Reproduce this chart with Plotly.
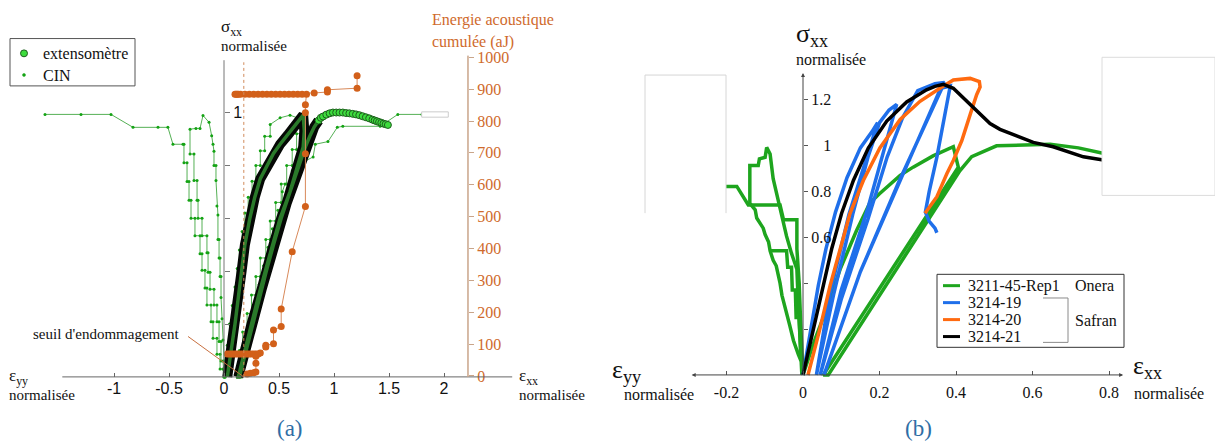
import plotly.graph_objects as go

W, H = 1215, 443
def px(x): return x / W
def py(y): return 1 - y / H

SERIF = "Liberation Serif"
SANS = "Liberation Sans"

# ================= panel (a) data =================
# extensometer: first loading, unloading, reloading (dense band) and tail (visible circles)
ext_load_x = [0.03, 0.06, 0.085, 0.10, 0.13, 0.16, 0.19, 0.235, 0.28, 0.33, 0.39, 0.45, 0.51, 0.58, 0.64, 0.69, 0.72]
ext_load_y = [0.00, 0.08, 0.15, 0.20, 0.30, 0.40, 0.50, 0.60, 0.68, 0.75, 0.80, 0.845, 0.88, 0.915, 0.945, 0.97, 0.99]
ext_unload_x = [0.72, 0.73, 0.72, 0.67, 0.60, 0.51, 0.44, 0.375, 0.31, 0.25, 0.19, 0.13]
ext_unload_y = [0.99, 0.93, 0.87, 0.80, 0.70, 0.60, 0.50, 0.40, 0.30, 0.20, 0.10, 0.00]
ext_reload_x = [0.14, 0.20, 0.26, 0.32, 0.385, 0.45, 0.52, 0.60, 0.68, 0.74, 0.78, 0.82, 0.86]
ext_reload_y = [0.00, 0.10, 0.20, 0.30, 0.40, 0.50, 0.60, 0.70, 0.80, 0.87, 0.91, 0.945, 0.97]
ext_tail_x = [0.86, 0.88, 0.90, 0.93, 0.96, 0.99, 1.02, 1.05, 1.08, 1.11, 1.14, 1.17, 1.20, 1.23, 1.26,
              1.29, 1.32, 1.35, 1.37, 1.39, 1.41, 1.43, 1.45, 1.47, 1.49]
ext_tail_y = [0.97, 0.98, 0.985, 0.992, 0.997, 1.0, 1.0, 1.0, 1.0, 0.998, 0.997, 0.995, 0.993, 0.99, 0.986,
              0.982, 0.978, 0.973, 0.970, 0.967, 0.964, 0.961, 0.958, 0.956, 0.953]

# CIN (image correlation) - eps_yy branches (negative side)
cin_yy_a_x = [-1.627, -1.300, -1.027, -0.827, -0.600, -0.510, -0.464, -0.373, -0.364, -0.364, -0.336, -0.336,
              -0.318, -0.318, -0.300, -0.300, -0.264, -0.264, -0.218, -0.218, -0.200, -0.200, -0.173, -0.173,
              -0.155, -0.155, -0.118, -0.118, -0.100, -0.100, -0.064, -0.064, -0.036, -0.036, -0.010, 0.000]
cin_yy_a_y = [0.993, 0.993, 0.993, 0.944, 0.944, 0.944, 0.880, 0.880, 0.880, 0.810, 0.810, 0.739,
              0.739, 0.668, 0.668, 0.600, 0.600, 0.534, 0.534, 0.466, 0.466, 0.403, 0.403, 0.336,
              0.336, 0.272, 0.272, 0.209, 0.209, 0.146, 0.146, 0.086, 0.086, 0.030, 0.030, 0.000]
cin_yy_b_x = [0.000, -0.009, -0.027, -0.027, -0.045, -0.045, -0.064, -0.064, -0.091, -0.091, -0.127, -0.127,
              -0.145, -0.145, -0.155, -0.155, -0.200, -0.200, -0.236, -0.236, -0.245, -0.245, -0.273, -0.273,
              -0.309, -0.309, -0.255, -0.218, -0.191, -0.136, -0.112, -0.100, -0.091, -0.091, -0.073, -0.073,
              -0.064, -0.055, -0.055, -0.045, -0.045, -0.036, -0.036, -0.027, -0.027, -0.018, -0.009, 0.000, 0.009]
cin_yy_b_y = [0.000, 0.060, 0.060, 0.134, 0.134, 0.209, 0.209, 0.272, 0.272, 0.332, 0.332, 0.396,
              0.396, 0.470, 0.470, 0.534, 0.534, 0.600, 0.600, 0.668, 0.668, 0.743, 0.743, 0.843,
              0.843, 0.937, 0.940, 0.940, 0.989, 0.963, 0.912, 0.880, 0.854, 0.800, 0.800, 0.743,
              0.646, 0.612, 0.520, 0.520, 0.450, 0.450, 0.380, 0.380, 0.300, 0.220, 0.140, 0.060, 0.000]

# CIN - eps_xx branches (positive side)
cin_xx_a_x = [0.01, 0.01, 0.03, 0.03, 0.05, 0.05, 0.075, 0.075, 0.10, 0.10, 0.12, 0.12, 0.14, 0.14, 0.165, 0.165,
              0.19, 0.19, 0.22, 0.22, 0.255, 0.255, 0.29, 0.29, 0.33, 0.33, 0.37, 0.37, 0.42, 0.42, 0.51, 0.60, 0.70]
cin_xx_a_y = [0.00, 0.06, 0.06, 0.12, 0.12, 0.20, 0.20, 0.27, 0.27, 0.34, 0.34, 0.41, 0.41, 0.48, 0.48, 0.55,
              0.55, 0.62, 0.62, 0.68, 0.68, 0.74, 0.74, 0.80, 0.80, 0.855, 0.855, 0.91, 0.91, 0.955, 0.98, 0.99, 0.975]
cin_xx_b_x = [0.70, 0.70, 0.66, 0.66, 0.62, 0.62, 0.57, 0.57, 0.52, 0.52, 0.47, 0.47, 0.42, 0.42, 0.38, 0.38,
              0.33, 0.33, 0.29, 0.29, 0.25, 0.25, 0.21, 0.21, 0.17, 0.17, 0.14, 0.14, 0.12]
cin_xx_b_y = [0.975, 0.92, 0.92, 0.86, 0.86, 0.80, 0.80, 0.73, 0.73, 0.66, 0.66, 0.59, 0.59, 0.52, 0.52, 0.45,
              0.45, 0.38, 0.38, 0.31, 0.31, 0.24, 0.24, 0.17, 0.17, 0.10, 0.10, 0.03, 0.00]
cin_xx_c_x = [0.14, 0.16, 0.16, 0.20, 0.20, 0.24, 0.24, 0.28, 0.28, 0.32, 0.32, 0.36, 0.36, 0.40, 0.40, 0.44,
              0.44, 0.49, 0.49, 0.53, 0.53, 0.555, 0.62, 0.62, 0.69, 0.81, 0.83, 0.945, 1.03, 1.08, 1.42, 1.58, 1.80]
cin_xx_c_y = [0.00, 0.00, 0.07, 0.07, 0.14, 0.14, 0.21, 0.21, 0.28, 0.28, 0.35, 0.35, 0.42, 0.42, 0.49, 0.49,
              0.56, 0.56, 0.63, 0.63, 0.70, 0.73, 0.73, 0.78, 0.806, 0.832, 0.88, 0.89, 0.944, 0.948, 0.948, 0.993, 0.993]

# cumulated acoustic energy (aJ)
energy_x = [0.21, 0.24, 0.27, 0.29, 0.29, 0.29,
            0.03, 0.05, 0.07, 0.09, 0.11, 0.13, 0.15, 0.17, 0.19, 0.21, 0.23, 0.25, 0.27, 0.29, 0.31,
            0.33, 0.38, 0.38, 0.45, 0.45, 0.52, 0.52, 0.62, 0.74, 0.74, 0.74, 0.74, 0.75,
            0.71, 0.67, 0.63, 0.59, 0.55, 0.51, 0.47, 0.43, 0.39, 0.35, 0.31, 0.27, 0.23, 0.19, 0.15,
            0.13, 0.12, 0.11, 0.10,
            0.82, 0.94, 0.94, 1.21, 1.21]
energy_y = [6, 8, 10, 12, 40, 62,
            69, 69, 69, 69, 69, 69, 69, 69, 69, 69, 69, 69, 69, 69, 69,
            72, 91, 96, 101, 144, 155, 210, 390, 532, 697, 826, 851, 884,
            884, 884, 884, 884, 884, 884, 884, 884, 884, 884, 884, 884, 884, 884, 884,
            884, 884, 884, 884,
            888, 891, 898, 903, 942]
damage_threshold = 0.18

# ================= panel (b) data =================
b_green_load_x = [0.0, 0.03, 0.06, 0.097, 0.14, 0.175, 0.20, 0.254, 0.288, 0.34, 0.393, 0.406,
                  0.053, 0.066, 0.41, 0.441, 0.506, 0.56, 0.646, 0.72, 0.781, 0.84]
b_green_load_y = [0.0, 0.15, 0.28, 0.46, 0.63, 0.75, 0.79, 0.87, 0.906, 0.955, 0.995, 0.906,
                  0.0, 0.0, 0.89, 0.952, 0.999, 1.003, 1.006, 0.99, 0.968, 0.952]
b_green_yy1_x = [-0.27, -0.173, -0.143, -0.06, -0.051, -0.016, -0.016, -0.010, -0.006, -0.002, 0.0]
b_green_yy1_y = [0.822, 0.822, 0.741, 0.741, 0.677, 0.677, 0.55, 0.40, 0.22, 0.08, 0.0]
b_green_yy2_x = [0.0, -0.005, -0.012, -0.025, -0.035, -0.043, -0.055, -0.06, -0.07, -0.078, -0.086, -0.09,
                 -0.099, -0.104, -0.121, -0.125, -0.139, -0.139, -0.117, -0.114, -0.099, -0.095, -0.086, -0.078,
                 -0.069, -0.06, -0.051, -0.043, -0.03, -0.016, -0.012, -0.008, -0.003]
b_green_yy2_y = [0.0, 0.06, 0.089, 0.15, 0.218, 0.27, 0.347, 0.40, 0.476, 0.50, 0.541, 0.58,
                 0.612, 0.64, 0.684, 0.72, 0.748, 0.913, 0.913, 0.942, 0.949, 0.992, 0.963, 0.856,
                 0.791, 0.741, 0.677, 0.605, 0.53, 0.461, 0.30, 0.15, 0.0]
b_green_yy3_x = [-0.086, -0.043, -0.040, -0.030, -0.028, -0.020, -0.018, -0.010, -0.006, 0.0]
b_green_yy3_y = [0.541, 0.541, 0.47, 0.47, 0.37, 0.37, 0.25, 0.25, 0.10, 0.0]

b_blue_x = [0.0, 0.02, 0.04, 0.06, 0.085, 0.115, 0.15, 0.18, 0.195,
            0.12, 0.07, 0.035,
            0.08, 0.13, 0.17, 0.20, 0.225, 0.245,
            0.17, 0.10, 0.045,
            0.10, 0.17, 0.22, 0.26, 0.30, 0.345, 0.37,
            0.25, 0.15, 0.055,
            0.15, 0.26, 0.36, 0.385,
            0.37, 0.35, 0.33, 0.32, 0.33, 0.345, 0.35]
b_blue_y = [0.0, 0.2, 0.39, 0.55, 0.71, 0.86, 0.99, 1.06, 1.10,
            0.70, 0.35, 0.0,
            0.35, 0.70, 0.95, 1.10, 1.155, 1.18,
            0.73, 0.37, 0.0,
            0.33, 0.68, 0.95, 1.12, 1.24, 1.27, 1.275,
            0.84, 0.45, 0.0,
            0.45, 0.87, 1.25, 1.26,
            1.12, 0.95, 0.80, 0.71, 0.67, 0.64, 0.62]
b_orange_x = [0.013, 0.044, 0.071, 0.097, 0.123, 0.158, 0.201, 0.254, 0.306, 0.358, 0.393, 0.437, 0.461,
              0.463, 0.454, 0.437, 0.415, 0.393, 0.376, 0.35, 0.319]
b_orange_y = [0.0, 0.2, 0.39, 0.55, 0.705, 0.849, 0.99, 1.114, 1.193, 1.25, 1.286, 1.293, 1.279,
              1.255, 1.222, 1.135, 1.021, 0.935, 0.877, 0.777, 0.705]
b_black_x = [0.0, 0.027, 0.053, 0.075, 0.101, 0.132, 0.171, 0.219, 0.271, 0.323, 0.345, 0.367, 0.393, 0.428,
             0.463, 0.489, 0.515, 0.559, 0.602, 0.654, 0.689, 0.733, 0.781, 0.84]
b_black_y = [0.0, 0.2, 0.39, 0.55, 0.705, 0.849, 0.99, 1.107, 1.19, 1.243, 1.258, 1.267, 1.25, 1.193,
             1.135, 1.096, 1.071, 1.042, 1.014, 0.995, 0.975, 0.951, 0.938, 0.925]

b_names = ["3211-45-Rep1", "3214-19", "3214-20", "3214-21"]
b_colors = ["#1ea51e", "#1f6fea", "#ff6a10", "#000000"]

ENERGY_C = "#d2601a"
CIN_LINE = "#55b055"
CIN_MARK = "#14a314"
EXT_FILL = "#3ddc3d"
EXT_EDGE = "#1d5e1d"

fig = go.Figure()

# ---- panel (a) traces ----
for xs, ys in [(cin_yy_a_x, cin_yy_a_y), (cin_yy_b_x, cin_yy_b_y),
               (cin_xx_a_x, cin_xx_a_y), (cin_xx_b_x, cin_xx_b_y), (cin_xx_c_x, cin_xx_c_y)]:
    fig.add_trace(go.Scatter(x=xs, y=ys, mode="lines+markers", xaxis="x", yaxis="y",
                             line=dict(color=CIN_LINE, width=1),
                             marker=dict(color=CIN_MARK, size=3), showlegend=False))

band_x = ext_load_x + ext_unload_x + ext_reload_x
band_y = ext_load_y + ext_unload_y + ext_reload_y
fig.add_trace(go.Scatter(x=band_x, y=band_y, mode="lines", xaxis="x", yaxis="y",
                         line=dict(color="#050805", width=10), showlegend=False))
fig.add_trace(go.Scatter(x=band_x, y=band_y, mode="lines", xaxis="x", yaxis="y",
                         line=dict(color="#2a7a2a", width=3.5), showlegend=False))
fig.add_trace(go.Scatter(x=ext_tail_x, y=ext_tail_y, mode="markers", xaxis="x", yaxis="y",
                         marker=dict(color=EXT_FILL, size=7, line=dict(color=EXT_EDGE, width=1)),
                         showlegend=False))

fig.add_trace(go.Scatter(x=energy_x, y=energy_y, mode="lines+markers", xaxis="x", yaxis="y3",
                         line=dict(color="#d8895a", width=1),
                         marker=dict(color=ENERGY_C, size=7), showlegend=False))

# ---- panel (b) traces ----
for xs, ys in [(b_green_yy1_x, b_green_yy1_y), (b_green_yy2_x, b_green_yy2_y),
               (b_green_yy3_x, b_green_yy3_y), (b_green_load_x, b_green_load_y)]:
    fig.add_trace(go.Scatter(x=xs, y=ys, mode="lines", xaxis="x2", yaxis="y2",
                             line=dict(color=b_colors[0], width=3.5), showlegend=False))
fig.add_trace(go.Scatter(x=b_blue_x, y=b_blue_y, mode="lines", xaxis="x2", yaxis="y2",
                         line=dict(color=b_colors[1], width=3.5), showlegend=False))
fig.add_trace(go.Scatter(x=b_orange_x, y=b_orange_y, mode="lines", xaxis="x2", yaxis="y2",
                         line=dict(color=b_colors[2], width=3.5), showlegend=False))
fig.add_trace(go.Scatter(x=b_black_x, y=b_black_y, mode="lines", xaxis="x2", yaxis="y2",
                         line=dict(color=b_colors[3], width=3.5), showlegend=False))

# ---------------- shapes ----------------
shapes = []
# panel (a) axis lines
shapes.append(dict(type="line", xref="x", yref="y", x0=-1.47, x1=2.62, y0=0, y1=0,
                   line=dict(color="#666", width=1)))
shapes.append(dict(type="line", xref="x", yref="y", x0=0, x1=0, y0=0, y1=1.198,
                   line=dict(color="#777", width=1)))
shapes.append(dict(type="line", xref="x", yref="y", x0=2.218, x1=2.218, y0=0, y1=1.216,
                   line=dict(color="#c9a58a", width=1.5)))
shapes.append(dict(type="line", xref="x", yref="y", x0=damage_threshold, x1=damage_threshold, y0=0, y1=1.19,
                   line=dict(color="#d08a5a", width=1, dash="dot")))
shapes.append(dict(type="line", xref="x", yref="y", x0=-0.327, x1=damage_threshold, y0=0.153, y1=0,
                   line=dict(color="#c87040", width=1)))
shapes.append(dict(type="rect", xref="x", yref="y", x0=1.797, x1=2.039, y0=0.9825, y1=1.0026,
                   line=dict(color="#cccccc", width=1), fillcolor="white", layer="above"))
# panel (a) legend box + symbols
shapes.append(dict(type="rect", xref="paper", yref="paper", x0=px(10), x1=px(135), y0=py(81), y1=py(33),
                   line=dict(color="#555", width=1), fillcolor="white", layer="above"))
shapes.append(dict(type="circle", xref="paper", yref="paper", x0=px(20.5), x1=px(27.5), y0=py(51.5), y1=py(44.5),
                   line=dict(color=EXT_EDGE, width=1), fillcolor=EXT_FILL, layer="above"))
shapes.append(dict(type="circle", xref="paper", yref="paper", x0=px(22.5), x1=px(25.5), y0=py(71.5), y1=py(68.5),
                   line=dict(color=CIN_MARK, width=0.5), fillcolor=CIN_MARK, layer="above"))
# panel (b) white boxes
shapes.append(dict(type="path", xref="paper", yref="paper",
                   path=f"M{px(645)},{py(210)} L{px(645)},{py(70)} L{px(726)},{py(70)} L{px(726)},{py(210)} Z",
                   line=dict(color="rgba(0,0,0,0)", width=0), fillcolor="white", layer="above"))
shapes.append(dict(type="path", xref="paper", yref="paper",
                   path=f"M{px(645)},{py(210)} L{px(645)},{py(70)} L{px(726)},{py(70)} L{px(726)},{py(210)}",
                   line=dict(color="#d6d6d6", width=1), layer="above"))
shapes.append(dict(type="path", xref="paper", yref="paper",
                   path=f"M{px(1215)},{py(52)} L{px(1102)},{py(52)} L{px(1102)},{py(192)} L{px(1215)},{py(192)} Z",
                   line=dict(color="#dcdcdc", width=1), fillcolor="white", layer="above"))
# panel (b) legend box and bracket
shapes.append(dict(type="rect", xref="paper", yref="paper", x0=px(937), x1=px(1124), y0=py(346), y1=py(272),
                   line=dict(color="#333", width=1), fillcolor="white", layer="above"))
shapes.append(dict(type="path", xref="paper", yref="paper",
                   path=f"M{px(1043)},{py(296)} L{px(1068)},{py(296)} L{px(1068)},{py(341)} L{px(1043)},{py(341)}",
                   line=dict(color="#8a8a8a", width=1), layer="above"))
leg_rows = [283.5, 300.7, 317.9, 335.1]
for c, yy in zip(b_colors, leg_rows):
    shapes.append(dict(type="line", xref="paper", yref="paper", x0=px(943), x1=px(960), y0=py(yy), y1=py(yy),
                       line=dict(color=c, width=3), layer="above"))

# ---------------- annotations ----------------
ann = []
def txt(x, y, t, size=15, color="#111", xanchor="left", family=SERIF):
    ann.append(dict(x=px(x), y=py(y), xref="paper", yref="paper", text=t, showarrow=False,
                    xanchor=xanchor, yanchor="middle", borderpad=0,
                    font=dict(family=family, size=size, color=color)))

# panel (a)
txt(42, 48, "extensomètre", 16)
txt(42, 70, "CIN", 16)
txt(220, 22, "σ<sub>xx</sub>", 17)
txt(220, 41, "normalisée", 15)
txt(431, 14, "Energie acoustique", 16, "#cf6a2c")
txt(431, 36, "cumulée (aJ)", 16, "#cf6a2c")
txt(8, 376, "ε<sub>yy</sub>", 17)
txt(8, 394, "normalisée", 15)
txt(518, 376, "ε<sub>xx</sub>", 17)
txt(518, 394, "normalisée", 15)
txt(32, 332, "seuil d'endommagement", 15)
txt(290, 428, "(a)", 23, "#2f6ea5", "center")
# panel (b)
txt(795, 29, "σ<sub>xx</sub>", 26)
txt(795, 54, "normalisée", 16)
txt(611, 370, "ε<sub>yy</sub>", 26)
txt(623, 394, "normalisée", 16)
txt(1132, 366, "ε<sub>xx</sub>", 26)
txt(1133, 393, "normalisée", 16)
txt(918, 428, "(b)", 23, "#2f6ea5", "center")
for name, yy in zip(b_names, leg_rows):
    txt(967, yy, name, 16)
txt(1074, 283.5, "Onera", 16)
txt(1074, 318.5, "Safran", 16)

# panel (b) axis arrows
ann.append(dict(x=0.837, y=0, xref="x2", yref="y2", ax=-0.295, ay=0, axref="x2", ayref="y2", text="",
                showarrow=True, arrowhead=2, arrowsize=0.8, arrowwidth=1, arrowcolor="#444",
                arrowside="end+start"))
ann.append(dict(x=0, y=1.316, xref="x2", yref="y2", ax=0, ay=0, axref="x2", ayref="y2", text="",
                showarrow=True, arrowhead=2, arrowsize=0.8, arrowwidth=1, arrowcolor="#444"))

axis_common = dict(showgrid=False, zeroline=False, showline=False)

fig.update_layout(
    width=W, height=H, autosize=False,
    margin=dict(l=0, r=0, t=0, b=0),
    paper_bgcolor="white", plot_bgcolor="rgba(0,0,0,0)",
    showlegend=False,
    xaxis=dict(domain=[px(40), px(520)], range=[(40 - 224) / 110, (520 - 224) / 110],
               anchor="free", position=py(376), ticks="inside", ticklen=4, tickcolor="#666",
               tickvals=[-1, -0.5, 0, 0.5, 1, 1.5, 2], ticktext=["-1", "-0.5", "0", "0.5", "1", "1.5", "2"],
               tickfont=dict(family=SANS, size=16, color="#111"), **axis_common),
    yaxis=dict(domain=[py(390), py(50)], range=[-(390 - 376) / 268, (376 - 50) / 268],
               anchor="free", position=px(224), side="right", ticks="outside", ticklen=5, tickcolor="#777",
               tickvals=[1.0], ticktext=["1"],
               minor=dict(tickvals=[0.2, 0.4, 0.6, 0.8], ticks="outside", ticklen=5, tickcolor="#777"),
               tickfont=dict(family=SANS, size=16, color="#111"), **axis_common),
    yaxis3=dict(overlaying="y", side="right", anchor="free", position=px(468),
                range=[(375 - 390) / 0.323, (375 - 50) / 0.323], ticks="outside", ticklen=5,
                tickcolor="#c9a58a", tickvals=[0, 100, 200, 300, 400, 500, 600, 700, 800, 900, 1000],
                tickfont=dict(family=SERIF, size=16, color="#cf6a2c"), **axis_common),
    xaxis2=dict(domain=[px(600), px(1140)], range=[(600 - 803) / 382.5, (1140 - 803) / 382.5],
                anchor="free", position=py(374), ticks="inside", ticklen=4, tickcolor="#555",
                tickvals=[-0.2, 0, 0.2, 0.4, 0.6, 0.8], ticktext=["-0.2", "0", "0.2", "0.4", "0.6", "0.8"],
                ticklabelstandoff=6, tickfont=dict(family=SERIF, size=16, color="#111"), **axis_common),
    yaxis2=dict(domain=[py(390), py(60)], range=[-(390 - 374) / 232.5, (374 - 60) / 232.5],
                anchor="free", position=px(803), side="right", ticks="outside", ticklen=4, tickcolor="#555",
                tickvals=[0.6, 0.8, 1.0, 1.2], ticktext=["0.6", "0.8", "\u2007\u20081", "1.2"],
                minor=dict(tickvals=[0.2, 0.4], ticks="outside", ticklen=4, tickcolor="#555"),
                tickfont=dict(family=SERIF, size=16, color="#111"), **axis_common),
    shapes=shapes,
    annotations=ann,
)

fig.write_html("out.html", config={"displayModeBar": False},
               post_script="document.body.style.margin='0px';document.body.style.overflow='hidden';")
